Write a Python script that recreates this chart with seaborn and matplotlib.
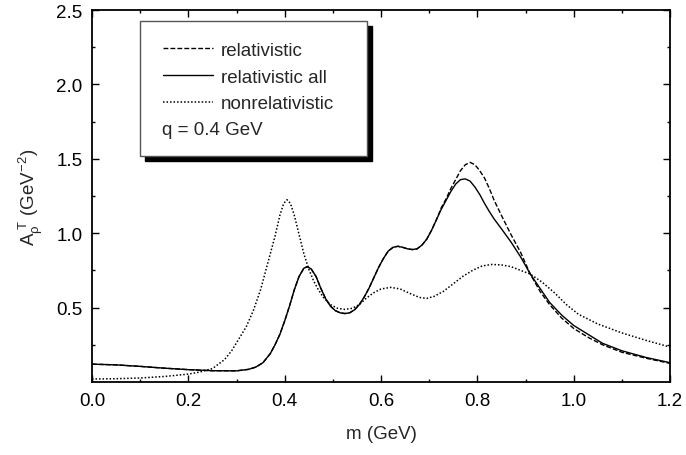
import numpy as np
import pandas as pd
import matplotlib
matplotlib.use('Agg')
import matplotlib.pyplot as plt
from matplotlib.patches import Rectangle
from matplotlib.ticker import MultipleLocator, FixedLocator
import seaborn as sns

# relativistic all (solid)
m_all = [0.0, 0.05, 0.1, 0.15, 0.2, 0.25, 0.3, 0.325, 0.34, 0.355, 0.37, 0.38, 0.39, 0.40,
         0.41, 0.42, 0.43, 0.44, 0.447, 0.455, 0.465, 0.475, 0.485, 0.495, 0.505, 0.515,
         0.525, 0.535, 0.545, 0.555, 0.565, 0.575, 0.585, 0.595, 0.605, 0.615, 0.625, 0.635,
         0.645, 0.655, 0.665, 0.675, 0.685, 0.695, 0.705, 0.715, 0.725, 0.735, 0.745, 0.755,
         0.765, 0.775, 0.785, 0.795, 0.805, 0.815, 0.825, 0.835, 0.85, 0.87, 0.89, 0.91,
         0.93, 0.95, 0.975, 1.0, 1.03, 1.06, 1.1, 1.15, 1.2]
a_all = [0.12, 0.115, 0.105, 0.093, 0.083, 0.076, 0.075, 0.085, 0.10, 0.13, 0.19, 0.25, 0.32, 0.41,
         0.51, 0.62, 0.71, 0.765, 0.775, 0.76, 0.71, 0.63, 0.56, 0.51, 0.48, 0.465,
         0.46, 0.465, 0.485, 0.52, 0.57, 0.63, 0.70, 0.77, 0.83, 0.88, 0.905, 0.912,
         0.905, 0.895, 0.89, 0.895, 0.92, 0.96, 1.02, 1.09, 1.16, 1.22, 1.28, 1.33,
         1.36, 1.365, 1.35, 1.31, 1.26, 1.20, 1.145, 1.095, 1.03, 0.94, 0.84, 0.725,
         0.63, 0.535, 0.45, 0.38, 0.32, 0.26, 0.21, 0.165, 0.13]

# relativistic (dashed)
m_rel = m_all
a_rel = [0.12, 0.115, 0.105, 0.093, 0.083, 0.076, 0.075, 0.085, 0.10, 0.13, 0.19, 0.25, 0.32, 0.41,
         0.51, 0.62, 0.71, 0.765, 0.775, 0.76, 0.71, 0.63, 0.56, 0.51, 0.48, 0.465,
         0.46, 0.465, 0.485, 0.52, 0.57, 0.63, 0.70, 0.77, 0.83, 0.88, 0.905, 0.912,
         0.905, 0.895, 0.89, 0.895, 0.92, 0.96, 1.02, 1.09, 1.17, 1.23, 1.30, 1.36,
         1.42, 1.46, 1.476, 1.46, 1.42, 1.37, 1.30, 1.22, 1.12, 0.99, 0.87, 0.725,
         0.61, 0.52, 0.43, 0.36, 0.30, 0.25, 0.20, 0.16, 0.125]

# nonrelativistic (dotted)
m_nr = [0.0, 0.05, 0.1, 0.15, 0.2, 0.225, 0.25, 0.275, 0.29, 0.305, 0.32, 0.335, 0.35, 0.365,
        0.38, 0.39, 0.398, 0.405, 0.412, 0.42, 0.43, 0.44, 0.45, 0.46, 0.47, 0.48, 0.495,
        0.51, 0.525, 0.54, 0.555, 0.57, 0.585, 0.6, 0.62, 0.64, 0.66, 0.68, 0.695, 0.71,
        0.73, 0.75, 0.77, 0.79, 0.81, 0.83, 0.85, 0.87, 0.89, 0.91, 0.935, 0.96, 0.985,
        1.01, 1.05, 1.1, 1.15, 1.2]
a_nr = [0.02, 0.022, 0.027, 0.037, 0.053, 0.068, 0.09, 0.15, 0.21, 0.29, 0.37, 0.48, 0.62, 0.80,
        0.98, 1.12, 1.20, 1.225, 1.20, 1.12, 0.99, 0.86, 0.76, 0.68, 0.62, 0.57, 0.52,
        0.495, 0.488, 0.495, 0.52, 0.565, 0.60, 0.625, 0.636, 0.625, 0.595, 0.568, 0.562, 0.575,
        0.61, 0.66, 0.71, 0.75, 0.78, 0.79, 0.787, 0.775, 0.75, 0.725, 0.67, 0.60, 0.52,
        0.455, 0.39, 0.33, 0.28, 0.235]

sns.set_style('ticks')
plt.rcParams['font.family'] = ['Liberation Sans', 'DejaVu Sans']
plt.rcParams['mathtext.default'] = 'regular'
fs = 13.5

fig = plt.figure(figsize=(6.86, 4.56), dpi=100)
ax = fig.add_axes([92/686, 73/456, 578/686, 372/456])

sns.lineplot(x=m_rel, y=a_rel, ax=ax, color='black', lw=1.0, linestyle=(0, (3.5, 1.5)),
             label='relativistic')
sns.lineplot(x=m_all, y=a_all, ax=ax, color='black', lw=1.0, label='relativistic all')
sns.lineplot(x=m_nr, y=a_nr, ax=ax, color='black', lw=1.1, linestyle=(0, (1, 1.3)),
             label='nonrelativistic')

ax.set_xlim(0, 1.2)
ax.set_ylim(0, 2.5)
ax.xaxis.set_major_locator(MultipleLocator(0.2))
ax.xaxis.set_minor_locator(MultipleLocator(0.1))
ax.yaxis.set_major_locator(FixedLocator([0.5, 1.0, 1.5, 2.0, 2.5]))
ax.yaxis.set_minor_locator(FixedLocator([0.25, 0.75, 1.25, 1.75, 2.25]))
ax.xaxis.set_major_formatter(plt.FormatStrFormatter('%.1f'))
ax.yaxis.set_major_formatter(plt.FormatStrFormatter('%.1f'))
ax.tick_params(which='both', direction='in', top=True, right=True, width=1.0,
               labelsize=fs, colors='black', pad=7)
ax.tick_params(which='major', length=5)
ax.tick_params(which='minor', length=2.5)
for s in ax.spines.values():
    s.set_linewidth(1.3)
    s.set_color('black')

ax.set_xlabel('m (GeV)', fontsize=fs, labelpad=12)
ax.set_ylabel(r'$A_\rho^{\ T}$ (GeV$^{-2}$)', fontsize=fs, labelpad=8)

# legend box with drop shadow
x0, y0, w, h = 0.083, 0.608, 0.393, 0.362
ax.add_patch(Rectangle((x0 + 0.009, y0 - 0.014), w, h, transform=ax.transAxes,
                       facecolor='black', edgecolor='black', zorder=5))
ax.add_patch(Rectangle((x0, y0), w, h, transform=ax.transAxes,
                       facecolor='white', edgecolor='#555555', lw=1.0, zorder=6))
leg = ax.legend(loc='upper left', bbox_to_anchor=(0.122, 0.915), frameon=False,
                fontsize=fs, handlelength=2.67, handletextpad=0.43, labelspacing=0.52,
                borderpad=0, borderaxespad=0)
leg.set_zorder(7)
ax.text(0.121, 0.680, 'q = 0.4 GeV', transform=ax.transAxes, fontsize=fs,
        va='center', ha='left', zorder=7)

fig.savefig('out.png', dpi=100)
